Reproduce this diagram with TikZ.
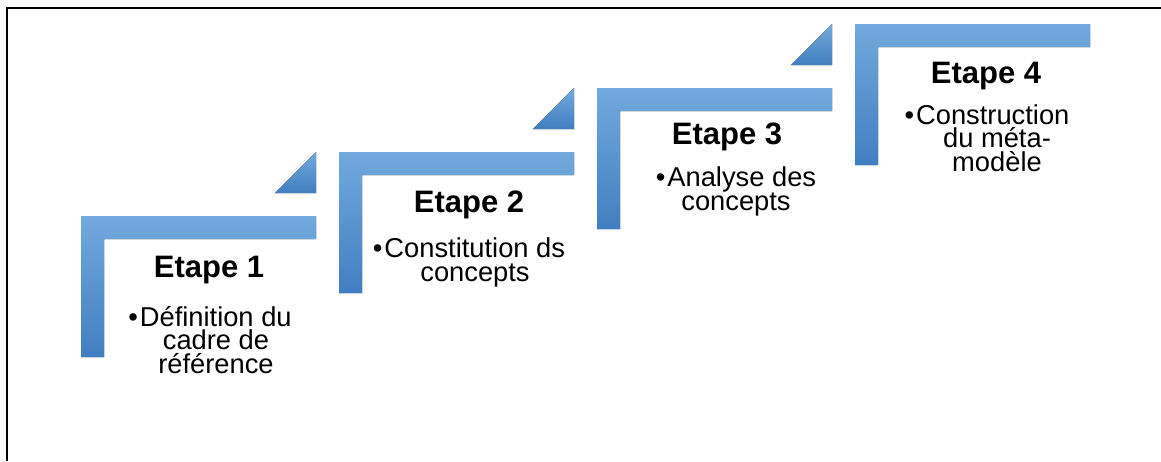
\documentclass[tikz,border=0pt]{standalone}
\usepackage{fontspec}
\setmainfont{Liberation Sans}
\definecolor{stepTop}{RGB}{114,170,222}
\definecolor{stepBot}{RGB}{66,126,192}
\newcommand{\tightlines}{\lineskiplimit=-100pt\relax\lineskip=0pt\relax}
\newcommand{\bodyfont}{\fontsize{27.3}{23.5}\selectfont\tightlines}
\tikzset{
  stepshape/.style={top color=stepTop, bottom color=stepBot, draw=none},
  title/.style={anchor=base, inner sep=0pt, font=\fontsize{31}{30}\selectfont\bfseries},
  body/.style={anchor=base, inner sep=0pt, align=center, font=\bodyfont},
  frame/.style={line width=2.2pt, black}
}
\newcommand{\blt}{•\hspace{2pt}}
\begin{document}
\begin{tikzpicture}[x=1pt,y=-1pt]
\useasboundingbox (0,0) rectangle (1161,461);
% frame
\draw[frame] (7,461) -- (7,8) -- (1161,8);
% steps
\foreach \i in {0,1,2,3}{
  \pgfmathsetmacro{\X}{81+258*\i}
  \pgfmathsetmacro{\T}{216-64*\i}
  \fill[stepshape] (\X,\T) -- ++(235,0) -- ++(0,23) -- ++(-212,0) -- ++(0,118) -- ++(-23,0) -- cycle;
}
\foreach \i in {0,1,2}{
  \pgfmathsetmacro{\X}{81+258*\i}
  \pgfmathsetmacro{\T}{216-64*\i}
  \fill[stepshape] (\X+194,\T-23) -- (\X+235,\T-23) -- (\X+235,\T-64) -- cycle;
}
% Step 1
\node[title] (t1) at (209,277) {Etape 1};
\node[body] (b1) at (216,373) {\blt Définition du\hspace*{12pt}\\cadre de\\référence};
% Step 2
\node[title] (t2) at (469,212) {Etape 2};
\node[body] (b2) at (475,281) {\blt Constitution ds\hspace*{12pt}\\concepts};
% Step 3
\node[title] (t3) at (727,144) {Etape 3};
\node[body] (b3) at (736,210) {\blt Analyse des\\concepts};
% Step 4
\node[title] (t4) at (986,83) {Etape 4};
\node[body] (b4) at (997,171) {\blt Construction\hspace*{20pt}\\du méta-\\modèle};
\end{tikzpicture}
\end{document}
